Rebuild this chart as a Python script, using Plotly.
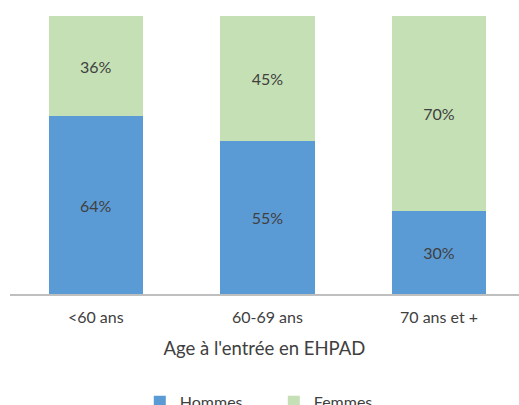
import plotly.graph_objects as go

categories = ["<60 ans", "60-69 ans", "70 ans et +"]
hommes = [0.64, 0.55, 0.30]
femmes = [0.36, 0.45, 0.70]
hommes_labels = ["64%", "55%", "30%"]
femmes_labels = ["36%", "45%", "70%"]

FONT = "Lato, 'Open Sans', sans-serif"
TXT = "#404040"

fig = go.Figure()
fig.add_trace(go.Bar(
    name="Hommes", x=categories, y=hommes, text=hommes_labels,
    marker=dict(color="#5B9BD5", line=dict(width=0)),
    textposition="inside", insidetextanchor="middle",
    textfont=dict(color=TXT, size=16, family=FONT),
))
fig.add_trace(go.Bar(
    name="Femmes", x=categories, y=femmes, text=femmes_labels,
    marker=dict(color="#C5E0B4", line=dict(width=0)),
    textposition="inside", insidetextanchor="middle",
    textfont=dict(color=TXT, size=16, family=FONT),
))

fig.update_layout(
    barmode="stack",
    bargap=0.45,
    width=519, height=405,
    margin=dict(l=10, r=0, t=16, b=111, autoexpand=False),
    paper_bgcolor="white", plot_bgcolor="white",
    font=dict(family=FONT, color=TXT, size=16),
    uniformtext=dict(mode="show", minsize=16),
    showlegend=True,
    legend=dict(
        orientation="h", x=0.255, xanchor="left", y=-0.388, yanchor="middle",
        traceorder="normal",
        font=dict(size=16, color=TXT, family=FONT),
        entrywidth=89, entrywidthmode="pixels", itemwidth=30,
        bgcolor="rgba(0,0,0,0)",
    ),
    xaxis=dict(
        range=[-0.5, 2.466], showgrid=False, showline=True,
        linecolor="#BFBFBF", linewidth=1.5, ticks="",
        ticklabelstandoff=8,
        tickfont=dict(size=16, color=TXT, family=FONT),
        title=dict(text="Age à l'entrée en EHPAD", font=dict(size=18.5, color=TXT, family=FONT), standoff=17),
    ),
    yaxis=dict(range=[0, 1], visible=False, showgrid=False),
)

fig.write_html(
    "out.html",
    config={"displayModeBar": False},
    post_script="document.body.style.margin='0';document.body.style.overflow='hidden';",
)
